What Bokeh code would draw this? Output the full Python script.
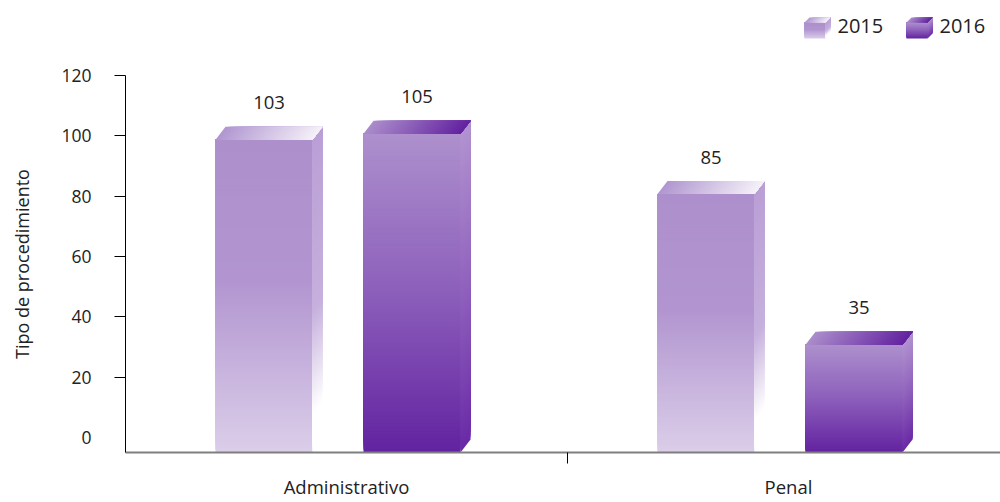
import numpy as np
from bokeh.plotting import figure
from bokeh.layouts import column
from bokeh.models import Range1d, FixedTicker
from bokeh.core.properties import value
from bokeh.embed import file_html
from bokeh.resources import INLINE

# ---------------- data ----------------
categories = ["Administrativo", "Penal"]
years = ["2015", "2016"]
values_2015 = [103, 85]
values_2016 = [105, 35]
y_ticks = [0, 20, 40, 60, 80, 100, 120]
y_axis_title = "Tipo de procedimiento"

# ---------------- layout ----------------
W = 1000
LEG_H = 55
MAIN_H = 502 - LEG_H
B_LEFT, B_BOTTOM, B_TOP, B_RIGHT = 125, 50, 20, 0
frame_w = W - B_LEFT - B_RIGHT
frame_h = MAIN_H - B_TOP - B_BOTTOM
PX_X = 442.0                      # px per category unit
x_start = 0.0
x_end = frame_w / PX_X
y_start = -5.0
y_end = float(y_ticks[-1])
PX_Y = frame_h / (y_end - y_start)  # px per value unit

FONT = value("Open Sans")
TXT = "#222222"

def hex2rgb(h):
    return tuple(int(h[i:i + 2], 16) for i in (1, 3, 5))

def grad(stops, t):
    for (t0, c0), (t1, c1) in zip(stops[:-1], stops[1:]):
        if t <= t1:
            f = (t - t0) / (t1 - t0) if t1 > t0 else 0.0
            a, b = hex2rgb(c0), hex2rgb(c1)
            return "#%02x%02x%02x" % tuple(int(round(a[k] + (b[k] - a[k]) * f)) for k in range(3))
    return stops[-1][1]

STYLE = {
    "2015": dict(
        front=[(0.0, "#ad8fcc"), (0.45, "#b295d0"), (1.0, "#dbcee9")],
        side=[(0.0, "#ba9fd6"), (0.55, "#c6b0dd"), (0.88, "#ffffff"), (1.0, "#ffffff")],
        top=[(0.0, "#b096d0"), (1.0, "#f5f1f9")],
    ),
    "2016": dict(
        front=[(0.0, "#ad90cd"), (0.5, "#8c5fbb"), (1.0, "#6222a0")],
        side=[(0.0, "#b293d0"), (0.5, "#9062bd"), (1.0, "#6a2aa6")],
        top=[(0.0, "#ab8dcb"), (1.0, "#6322a0")],
    ),
}


def cube(fig, x0, w, d, ybot, ytop_front, dyv, st, n=120, nt=40):
    """3D box: front face, right side face, top face, all gradient filled."""
    edges = np.linspace(ybot, ytop_front, n + 1)
    tm = 1 - (np.arange(n) + 0.5) / n      # 0 at top, 1 at bottom
    cols = [grad(st["front"], t) for t in tm]
    lo = np.minimum(edges[:-1], ytop_front)
    hi = np.maximum(edges[:-1], ytop_front)
    fig.quad(left=x0, right=x0 + w, bottom=lo, top=hi, fill_color=cols, line_color=None)
    xs, ys, cs = [], [], []
    for i in range(n):
        a = edges[i]
        xs.append([x0 + w, x0 + w, x0 + w + d, x0 + w + d])
        ys.append([a, ytop_front, ytop_front + dyv, a + dyv])
        cs.append(grad(st["side"], tm[i]))
    fig.patches(xs=xs, ys=ys, fill_color=cs, line_color=None)
    xs, ys, cs = [], [], []
    for j in range(nt):
        u0, u1 = x0 + w * j / nt, x0 + w
        xs.append([u0, u1, u1 + d, u0 + d])
        ys.append([ytop_front, ytop_front, ytop_front + dyv, ytop_front + dyv])
        cs.append(grad(st["top"], (j + 0.5) / nt))
    fig.patches(xs=xs, ys=ys, fill_color=cs, line_color=None)


# ---------------- legend strip (page-pixel coordinates) ----------------
# its frame is aligned with the main chart's frame (x from B_LEFT to W)
leg = figure(width=W, height=LEG_H, x_range=Range1d(B_LEFT, W - B_RIGHT), y_range=Range1d(LEG_H, 0),
             min_border=0, toolbar_location=None, output_backend="svg",
             x_axis_location=None, y_axis_location=None,
             background_fill_color="white", border_fill_color="white")
leg.outline_line_color = None
leg.grid.visible = False
leg_left = {"2015": 804, "2016": 906}
for yr in years:
    lx = leg_left[yr]
    cube(leg, lx, 21, 5, 38, 22, -5, STYLE[yr], n=30, nt=10)
    leg.text(x=[lx + 33], y=[25], text=[yr], text_align="left", text_baseline="middle",
             text_font=FONT, text_font_size=value("20px"), text_color=TXT)

# ---------------- main chart ----------------
p = figure(width=W, height=MAIN_H, x_range=Range1d(x_start, x_end), y_range=Range1d(y_start, y_end),
           min_border_left=B_LEFT, min_border_right=B_RIGHT, min_border_top=B_TOP,
           min_border_bottom=B_BOTTOM, toolbar_location=None, output_backend="svg",
           background_fill_color="white", border_fill_color="white")
p.outline_line_color = None
p.xgrid.visible = False
p.ygrid.visible = False

FRONT_W = 97 / PX_X
DEPTH_X = 10 / PX_X
DEPTH_Y = 13 / PX_Y
OFFSETS = {"2015": -131 / PX_X, "2016": 17 / PX_X}
series = {"2015": values_2015, "2016": values_2016}

lab_x, lab_y, lab_t = [], [], []
for yr in years:
    for i, cat in enumerate(categories):
        v = series[yr][i]
        x0 = i + 0.5 + OFFSETS[yr]
        cube(p, x0, FRONT_W, DEPTH_X, y_start, v - DEPTH_Y, DEPTH_Y, STYLE[yr])
        lab_x.append(x0 + (FRONT_W + DEPTH_X) / 2)
        lab_y.append(v)
        lab_t.append(str(v))

p.text(x=lab_x, y=lab_y, text=lab_t, y_offset=-24, text_align="center", text_baseline="middle",
       text_font=FONT, text_font_size=value("18.5px"), text_color=TXT)

# y axis
ya = p.yaxis[0]
ya.ticker = FixedTicker(ticks=y_ticks, minor_ticks=y_ticks[1:])
ya.bounds = (y_start, y_ticks[-1])
ya.major_tick_out = 0
ya.major_tick_in = 0
ya.minor_tick_out = 11
ya.minor_tick_in = 0
ya.minor_tick_line_color = "black"
ya.axis_line_color = "black"
ya.major_label_standoff = 23
ya.major_label_text_font = "Open Sans"
ya.major_label_text_font_size = "17.5px"
ya.major_label_text_color = TXT
ya.axis_label = y_axis_title
ya.axis_label_standoff = 24
ya.axis_label_text_font = "Open Sans"
ya.axis_label_text_font_size = "18px"
ya.axis_label_text_font_style = "normal"
ya.axis_label_text_color = TXT

# x axis
xa = p.xaxis[0]
centers = [i + 0.5 for i in range(len(categories))]
xa.ticker = FixedTicker(ticks=centers, minor_ticks=[1.0])
xa.major_label_overrides = {c: cat for c, cat in zip(centers, categories)}
xa.major_tick_out = 0
xa.major_tick_in = 0
xa.minor_tick_out = 11
xa.minor_tick_in = 0
xa.minor_tick_line_color = "black"
xa.axis_line_color = "#7f7f7f"
xa.axis_line_width = 2
xa.major_label_standoff = 10
xa.major_label_text_font = "Open Sans"
xa.major_label_text_font_size = "18.5px"
xa.major_label_text_color = TXT

layout = column(leg, p, spacing=0)
open("out.html", "w").write(file_html(layout, INLINE))
